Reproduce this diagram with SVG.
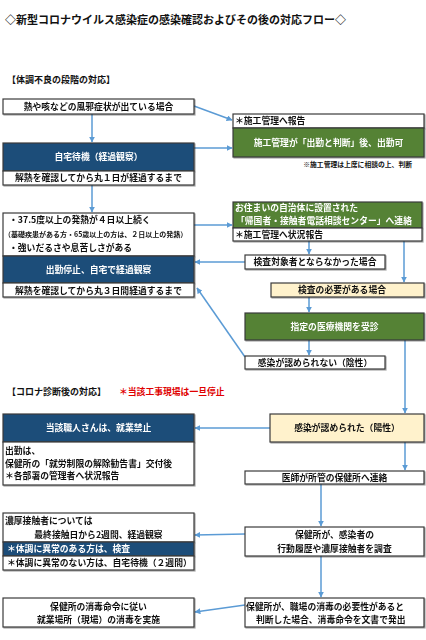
<svg xmlns="http://www.w3.org/2000/svg" width="426" height="640" viewBox="0 0 426 640">
<style>
text{font-family:"Noto Sans CJK JP","Noto Sans",sans-serif;font-weight:700;font-size:8.8px;fill:#111}
.c{text-anchor:middle}
.w{fill:#fff}
.box{fill:#fff;stroke:#3a3a3a;stroke-width:1.2}
.blue{fill:#1f4e79;stroke:#3a3a3a;stroke-width:1.2}
.green{fill:#548235;stroke:#3a3a3a;stroke-width:1.2}
.yel{fill:#fff2cc;stroke:#3a3a3a;stroke-width:1.2}
.frame{fill:none;stroke:#3a3a3a;stroke-width:1.2}
.ln{fill:none;stroke:#5b9bd5;stroke-width:1.5;marker-end:url(#ah)}
.title{font-size:11px}
.sec{font-size:9px}
.red{fill:#e00000}
.note{font-size:6.8px}
.small{font-size:7px}
</style>
<defs>
<marker id="ah" viewBox="0 0 10 10" refX="9" refY="5" markerWidth="6" markerHeight="6" markerUnits="userSpaceOnUse" orient="auto">
<path d="M0,0 L10,5 L0,10 z" fill="#5b9bd5"/>
</marker>
<filter id="sh" x="-5%" y="-5%" width="110%" height="130%">
<feDropShadow dx="1" dy="1" stdDeviation="0.6" flood-color="#000" flood-opacity="0.35"/>
</filter>
</defs>
<rect width="426" height="640" fill="#fff"/>
<text class="title" x="5" y="24">◇新型コロナウイルス感染症の感染確認およびその後の対応フロー◇</text>
<text class="sec" x="7" y="83">【体調不良の段階の対応】</text>
<text class="sec" x="7" y="395">【コロナ診断後の対応】</text>
<text class="red" x="119" y="395">＊当該工事現場は一旦停止</text>

<g id="connectors">
<line class="ln" x1="92" y1="114" x2="92" y2="142"/>
<line class="ln" x1="194" y1="106" x2="232" y2="120"/>
<line class="ln" x1="194" y1="148" x2="232" y2="148"/>
<line class="ln" x1="92" y1="185" x2="92" y2="212"/>
<line class="ln" x1="194" y1="225" x2="232" y2="225"/>
<line class="ln" x1="309" y1="241" x2="309" y2="254"/>
<line class="ln" x1="245" y1="262" x2="195" y2="262"/>
<line class="ln" x1="404" y1="241" x2="404" y2="282"/>
<line class="ln" x1="309" y1="297" x2="309" y2="312"/>
<line class="ln" x1="309" y1="340" x2="309" y2="355"/>
<line class="ln" x1="245" y1="357" x2="197" y2="288"/>
<line class="ln" x1="405" y1="340" x2="405" y2="413"/>
<line class="ln" x1="270" y1="428" x2="195" y2="428"/>
<line class="ln" x1="405" y1="442" x2="405" y2="470"/>
<line class="ln" x1="321" y1="484" x2="321" y2="526"/>
<line class="ln" x1="245" y1="534" x2="195" y2="535"/>
<line class="ln" x1="321" y1="556" x2="321" y2="597"/>
<line class="ln" x1="245" y1="605" x2="195" y2="612"/>
</g>

<g id="n1" filter="url(#sh)">
<rect class="box" x="3" y="99" width="191" height="15"/>
<text class="c" x="98.5" y="109.5">熱や咳などの風邪症状が出ている場合</text>
</g>

<g id="n2" filter="url(#sh)">
<rect class="blue" x="3" y="143" width="191" height="28"/>
<rect class="box" x="3" y="171" width="191" height="14"/>
<text class="c w" x="98.5" y="160">自宅待機（経過観察）</text>
<text class="c" x="98.5" y="181">解熱を確認してから丸１日が経過するまで</text>
</g>

<g id="n3" filter="url(#sh)">
<rect class="box" x="3" y="213" width="191" height="43"/>
<rect class="blue" x="3" y="256" width="191" height="27"/>
<rect class="box" x="3" y="283" width="191" height="14"/>
<text x="9" y="222.5">・37.5度以上の発熱が４日以上続く</text>
<text class="small" x="4" y="236.5">（基礎疾患がある方・65歳以上の方は、２日以上の発熱）</text>
<text x="9" y="250.5">・強いだるさや息苦しさがある</text>
<text class="c w" x="98.5" y="273">出勤停止、自宅で経過観察</text>
<text class="c" x="98.5" y="293.5">解熱を確認してから丸３日間経過するまで</text>
</g>

<g id="n4" filter="url(#sh)">
<rect class="box" x="233" y="114" width="191" height="14"/>
<rect class="green" x="233" y="128" width="191" height="29"/>
<text x="235" y="124">＊施工管理へ報告</text>
<text class="c w" x="328.5" y="145.5">施工管理が「出勤と判断」後、出勤可</text>
</g>
<text class="note" x="412" y="166.5" text-anchor="end">※施工管理は上席に相談の上、判断</text>

<g id="n5" filter="url(#sh)">
<rect class="green" x="233" y="202" width="189" height="26"/>
<rect class="box" x="233" y="228" width="189" height="13"/>
<text class="w" x="235" y="210.5">お住まいの自治体に設置された</text>
<text class="w" x="236" y="223.5">「帰国者・接触者電話相談センター」へ連絡</text>
<text x="235" y="237.5">＊施工管理へ状況報告</text>
</g>

<g id="n6" filter="url(#sh)">
<rect class="box" x="245" y="255" width="140" height="14"/>
<text class="c" x="315" y="265">検査対象者とならなかった場合</text>
</g>

<g id="n7" filter="url(#sh)">
<rect class="yel" x="271" y="283" width="153" height="14"/>
<text class="c" x="342" y="293">検査の必要がある場合</text>
</g>

<g id="n8" filter="url(#sh)">
<rect class="green" x="245" y="313" width="179" height="27"/>
<text class="c w" x="334.5" y="329.5">指定の医療機関を受診</text>
</g>

<g id="n9" filter="url(#sh)">
<rect class="box" x="245" y="356" width="140" height="13"/>
<text class="c" x="315" y="365.5">感染が認められない（陰性）</text>
</g>

<g id="n10" filter="url(#sh)">
<rect class="yel" x="270" y="414" width="154" height="28"/>
<text class="c" x="347" y="431">感染が認められた（陽性）</text>
</g>

<g id="n11" filter="url(#sh)">
<rect class="blue" x="3" y="414" width="191" height="28"/>
<rect class="box" x="3" y="442" width="191" height="43"/>
<text class="c w" x="98.5" y="431">当該職人さんは、就業禁止</text>
<text x="5" y="454">出勤は、</text>
<text x="5" y="466.5">保健所の「就労制限の解除勧告書」交付後</text>
<text x="5" y="479">＊各部署の管理者へ状況報告</text>
</g>

<g id="n12" filter="url(#sh)">
<rect class="box" x="245" y="471" width="179" height="13"/>
<text class="c" x="334.5" y="480.5">医師が所管の保健所へ連絡</text>
</g>

<g id="n13" filter="url(#sh)">
<rect class="box" x="245" y="527" width="179" height="29"/>
<text class="c" x="334.5" y="538">保健所が、感染者の</text>
<text class="c" x="334.5" y="552">行動履歴や濃厚接触者を調査</text>
</g>

<g id="n14" filter="url(#sh)">
<rect class="box" x="3" y="513" width="191" height="29"/>
<rect class="blue" x="3" y="542" width="191" height="14"/>
<rect class="box" x="3" y="556" width="191" height="14"/>
<text x="5" y="524">濃厚接触者については</text>
<text class="c" x="98.5" y="538">最終接触日から2週間、経過観察</text>
<text class="w" x="7" y="552">＊体調に異常のある方は、検査</text>
<text x="7" y="566">＊体調に異常のない方は、自宅待機（２週間）</text>
</g>

<g id="n15" filter="url(#sh)">
<rect class="box" x="245" y="598" width="179" height="29"/>
<text x="246" y="610">保健所が、職場の消毒の必要性があると</text>
<text x="256" y="623">判断した場合、消毒命令を文書で発出</text>
</g>

<g id="n16" filter="url(#sh)">
<rect class="box" x="3" y="598" width="191" height="29"/>
<text class="c" x="98.5" y="610">保健所の消毒命令に従い</text>
<text class="c" x="98.5" y="623">就業場所（現場）の消毒を実施</text>
</g>
</svg>
